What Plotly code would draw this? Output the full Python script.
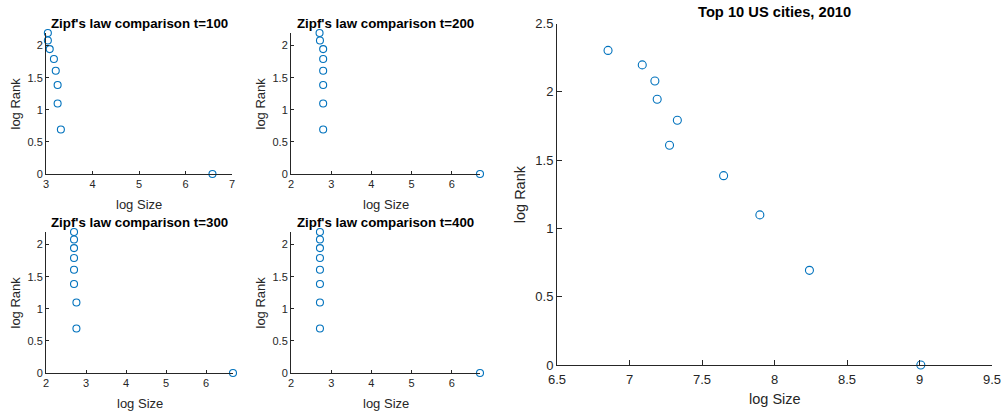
import plotly.graph_objects as go

W, H = 1002, 411

# ---- data ----
log_rank9 = [0, 0.693, 1.099, 1.386, 1.609, 1.792, 1.946, 2.079, 2.197]
size_t100 = [6.58, 3.32, 3.25, 3.25, 3.21, 3.17, 3.08, 3.04, 3.04]
size_t200 = [6.70, 2.80, 2.80, 2.80, 2.80, 2.80, 2.80, 2.72, 2.71]
size_t300 = [6.67, 2.76, 2.76, 2.70, 2.70, 2.70, 2.70, 2.70, 2.70]
size_t400 = [6.70, 2.72, 2.72, 2.72, 2.72, 2.72, 2.72, 2.72, 2.72]

us_log_rank = [0, 0.693, 1.099, 1.386, 1.609, 1.792, 1.946, 2.079, 2.197, 2.303]
us_log_size = [9.009, 8.241, 7.899, 7.649, 7.276, 7.330, 7.191, 7.175, 7.088, 6.852]

small_titles = ["Zipf's law comparison t=100", "Zipf's law comparison t=200",
                "Zipf's law comparison t=300", "Zipf's law comparison t=400"]
big_title = "Top 10 US cities, 2010"

small_ytick_vals = [0, 0.5, 1, 1.5, 2]
small_ytick_text = ["0", "0.5", "1", "1.5", "2"]
big_xtick_vals = [6.5, 7, 7.5, 8, 8.5, 9, 9.5]
big_xtick_text = ["6.5", "7", "7.5", "8", "8.5", "9", "9.5"]
big_ytick_vals = [0, 0.5, 1, 1.5, 2, 2.5]
big_ytick_text = ["0", "0.5", "1", "1.5", "2", "2.5"]

BLUE = "#0072BD"
AX = "#262626"
FONT = "Liberation Sans, Arial, Helvetica, sans-serif"


def dx(a, b):
    return [a / W, b / W]


def dy(top, bottom):
    return [1 - bottom / H, 1 - top / H]


# pixel boxes: (left, right, top, bottom), x range
boxes = [
    (46, 232, 33, 174, [3, 7]),
    (291, 480, 33, 174, [2, 6.70]),
    (46, 233, 232, 373, [2, 6.67]),
    (291, 480, 232, 373, [2, 6.70]),
]
series = [size_t100, size_t200, size_t300, size_t400]

fig = go.Figure()
layout = dict(
    template="none",
    width=W, height=H, margin=dict(l=0, r=0, t=0, b=0, pad=0),
    paper_bgcolor="white", plot_bgcolor="white", showlegend=False,
    font=dict(family=FONT, color=AX),
)
annotations = []

for i, ((l, r, t, b, xr), xs) in enumerate(zip(boxes, series)):
    n = i + 1
    xa = "x" if n == 1 else f"x{n}"
    ya = "y" if n == 1 else f"y{n}"
    fig.add_trace(go.Scatter(
        x=xs, y=log_rank9, mode="markers", xaxis=xa, yaxis=ya,
        cliponaxis=False,
        marker=dict(symbol="circle-open", size=7, color=BLUE, line=dict(width=1.1, color=BLUE)),
    ))
    common = dict(showgrid=False, zeroline=False, showline=True, linecolor=AX, linewidth=1,
                  ticks="inside", ticklen=3, tickcolor=AX, tickwidth=1, automargin=False,
                  tickfont=dict(size=11, color=AX, family=FONT))
    layout["xaxis" if n == 1 else f"xaxis{n}"] = dict(
        domain=dx(l, r), range=xr, anchor=ya, dtick=1, tick0=0, **common)
    layout["yaxis" if n == 1 else f"yaxis{n}"] = dict(
        domain=dy(t, b), range=[0, 2.197], anchor=xa,
        tickvals=small_ytick_vals, ticktext=small_ytick_text, **common)
    cx = (l + r) / 2
    annotations.append(dict(text=f"<b>{small_titles[i]}</b>", x=cx / W, y=1 - (t - 9.5) / H,
                            xref="paper", yref="paper", showarrow=False,
                            xanchor="center", yanchor="middle",
                            font=dict(size=13.3, color="black", family=FONT)))
    annotations.append(dict(text="log Size", x=cx / W, y=1 - (b + 30) / H,
                            xref="paper", yref="paper", showarrow=False,
                            xanchor="center", yanchor="middle",
                            font=dict(size=13, color=AX, family=FONT)))
    annotations.append(dict(text="log Rank", x=(l - 31) / W, y=1 - ((t + b) / 2) / H,
                            xref="paper", yref="paper", showarrow=False, textangle=-90,
                            xanchor="center", yanchor="middle",
                            font=dict(size=13, color=AX, family=FONT)))

# big plot
l, r, t, b = 557, 992, 23.5, 365
fig.add_trace(go.Scatter(
    x=us_log_size, y=us_log_rank, mode="markers", xaxis="x5", yaxis="y5",
    cliponaxis=False,
    marker=dict(symbol="circle-open", size=8, color=BLUE, line=dict(width=1.1, color=BLUE)),
))
common5 = dict(showgrid=False, zeroline=False, showline=True, linecolor=AX, linewidth=1,
               ticks="inside", ticklen=5, tickcolor=AX, tickwidth=1, automargin=False,
               tickfont=dict(size=13, color=AX, family=FONT))
layout["xaxis5"] = dict(domain=dx(l, r), range=[6.5, 9.5], anchor="y5",
                        ticklabelstandoff=2,
                        tickvals=big_xtick_vals, ticktext=big_xtick_text, **common5)
layout["yaxis5"] = dict(domain=dy(t, b), range=[0, 2.5], anchor="x5",
                        tickvals=big_ytick_vals, ticktext=big_ytick_text, **common5)
cx = (l + r) / 2
annotations.append(dict(text=f"<b>{big_title}</b>", x=cx / W, y=1 - 12.3 / H,
                        xref="paper", yref="paper", showarrow=False,
                        xanchor="center", yanchor="middle",
                        font=dict(size=14.7, color="black", family=FONT)))
annotations.append(dict(text="log Size", x=cx / W, y=1 - 399 / H,
                        xref="paper", yref="paper", showarrow=False,
                        xanchor="center", yanchor="middle",
                        font=dict(size=14.5, color=AX, family=FONT)))
annotations.append(dict(text="log Rank", x=520 / W, y=1 - ((t + b) / 2) / H,
                        xref="paper", yref="paper", showarrow=False, textangle=-90,
                        xanchor="center", yanchor="middle",
                        font=dict(size=14.5, color=AX, family=FONT)))

layout["annotations"] = annotations
fig.update_layout(**layout)
fig.write_html("out.html", config={"displayModeBar": False},
               post_script="document.body.style.margin='0';document.body.style.overflow='hidden';")
